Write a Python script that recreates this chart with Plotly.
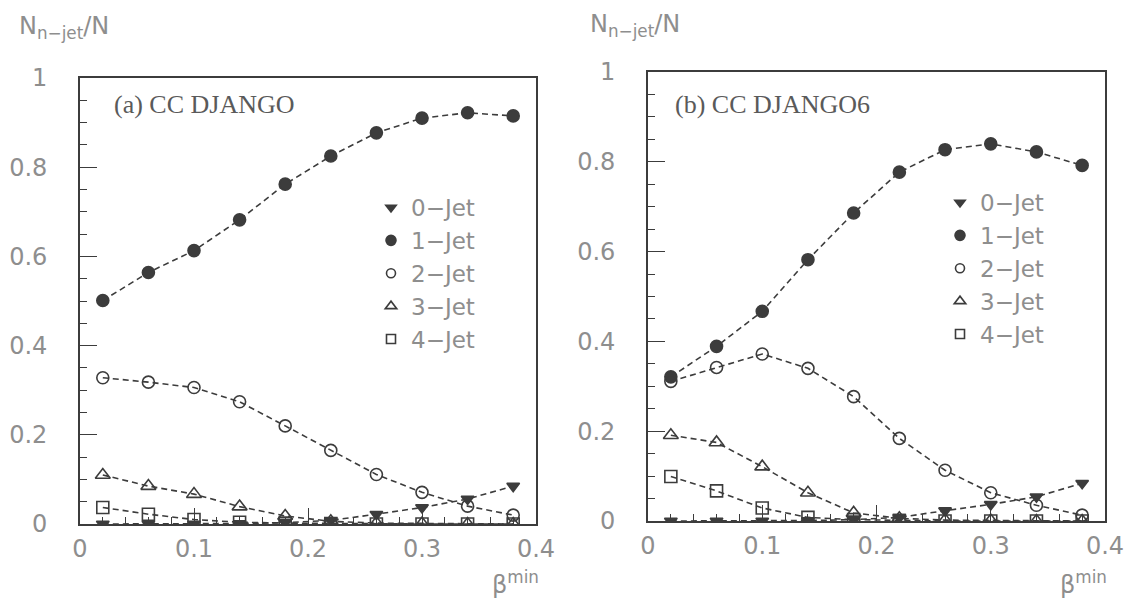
import plotly.graph_objects as go

# page body has an 8px margin, so the figure is a little smaller than the window
OFF = 8
W, H = 1137 - OFF, 602 - OFF

beta = [0.02, 0.06, 0.10, 0.14, 0.18, 0.22, 0.26, 0.30, 0.34, 0.38]

# panel (a) CC DJANGO
jet0_a = [0.000, 0.000, 0.000, 0.001, 0.003, 0.008, 0.022, 0.037, 0.056, 0.085]
jet1_a = [0.501, 0.564, 0.613, 0.682, 0.762, 0.825, 0.877, 0.910, 0.922, 0.915]
jet2_a = [0.328, 0.318, 0.306, 0.274, 0.220, 0.165, 0.111, 0.071, 0.040, 0.020]
jet3_a = [0.110, 0.085, 0.067, 0.039, 0.018, 0.006, 0.002, 0.001, 0.000, 0.000]
jet4_a = [0.037, 0.022, 0.010, 0.004, 0.002, 0.001, 0.000, 0.000, 0.000, 0.000]

# panel (b) CC DJANGO6
jet0_b = [0.000, 0.000, 0.000, 0.001, 0.003, 0.008, 0.023, 0.037, 0.054, 0.084]
jet1_b = [0.321, 0.389, 0.467, 0.582, 0.686, 0.777, 0.827, 0.840, 0.822, 0.792]
jet2_b = [0.311, 0.342, 0.372, 0.340, 0.277, 0.184, 0.113, 0.063, 0.035, 0.013]
jet3_b = [0.191, 0.175, 0.121, 0.063, 0.018, 0.006, 0.002, 0.001, 0.000, 0.000]
jet4_b = [0.099, 0.067, 0.029, 0.008, 0.003, 0.001, 0.000, 0.000, 0.000, 0.000]

series_names = ["0\u2212Jet", "1\u2212Jet", "2\u2212Jet", "3\u2212Jet", "4\u2212Jet"]
panel_titles = ["(a) CC DJANGO", "(b) CC DJANGO6"]

INK = "#3c3c3c"
GREY = "#8e8e8e"
symbols = ["triangle-down", "circle", "circle-open", "triangle-up-open", "square-open"]
sizes = [11, 12, 12, 13, 12]
leg_sizes = [9, 10, 9, 10, 9]

fig = go.Figure()

panels = [
    ("x", "y", "legend", [jet0_a, jet1_a, jet2_a, jet3_a, jet4_a]),
    ("x2", "y2", "legend2", [jet0_b, jet1_b, jet2_b, jet3_b, jet4_b]),
]

for xa, ya, leg, data in panels:
    for i, vals in enumerate(data):
        fig.add_trace(go.Scatter(
            x=beta, y=vals, xaxis=xa, yaxis=ya, mode="lines+markers",
            line=dict(color=INK, width=1.6, dash="6px,4px"),
            marker=dict(symbol=symbols[i], size=sizes[i], color=INK,
                        line=dict(color=INK, width=1.6)),
            showlegend=False, hoverinfo="skip"))
    for i in range(5):
        fig.add_trace(go.Scatter(
            x=[None], y=[None], xaxis=xa, yaxis=ya, mode="markers",
            marker=dict(symbol=symbols[i], size=leg_sizes[i], color=INK,
                        line=dict(color=INK, width=1.6)),
            name=series_names[i], legend=leg, showlegend=True))

def px_x(p):
    return (p - OFF) / W

def px_y(p):
    return 1 - (p - OFF) / H

tickfont = dict(family="DejaVu Sans, Liberation Sans, sans-serif", size=24, color=GREY)

def xaxis(domain, anchor):
    return dict(domain=domain, anchor=anchor, range=[0, 0.4], dtick=0.1, tick0=0,
                ticks="inside", ticklen=16, tickwidth=1.4, tickcolor=INK,
                minor=dict(dtick=0.02, ticks="inside", ticklen=7, tickwidth=1.2, tickcolor=INK),
                showline=True, linecolor=INK, linewidth=1.6, mirror=True,
                showgrid=False, zeroline=False, tickfont=tickfont,
                ticklabelstandoff=2, automargin=False, fixedrange=True)

def yaxis(domain, anchor):
    return dict(domain=domain, anchor=anchor, range=[0, 1], dtick=0.2, tick0=0,
                ticks="inside", ticklen=17, tickwidth=1.4, tickcolor=INK,
                minor=dict(dtick=0.05, ticks="inside", ticklen=7, tickwidth=1.2, tickcolor=INK),
                showline=True, linecolor=INK, linewidth=1.6, mirror=True,
                showgrid=False, zeroline=False, tickfont=tickfont,
                ticklabelstandoff=26, automargin=False, fixedrange=True)

legfont = dict(family="DejaVu Sans, Liberation Sans, sans-serif", size=23, color=GREY)

fig.update_layout(
    width=W, height=H,
    margin=dict(l=0, r=0, t=0, b=0),
    paper_bgcolor="white", plot_bgcolor="white",
    xaxis=xaxis([px_x(80), px_x(536)], "y"),
    yaxis=yaxis([px_y(524), px_y(78)], "x"),
    xaxis2=xaxis([px_x(648), px_x(1105)], "y2"),
    yaxis2=yaxis([px_y(521), px_y(72)], "x2"),
    legend=dict(x=px_x(371), y=px_y(186), xanchor="left", yanchor="top",
                bgcolor="rgba(0,0,0,0)", font=legfont, itemwidth=30,
                tracegroupgap=0),
    legend2=dict(x=px_x(940), y=px_y(181), xanchor="left", yanchor="top",
                 bgcolor="rgba(0,0,0,0)", font=legfont, itemwidth=30,
                 tracegroupgap=0),
)

annots = []
title_font = dict(family="Liberation Serif, Times New Roman, serif", size=26, color="#5a5a5a")
annots.append(dict(text=panel_titles[0], x=px_x(112), y=px_y(105), xref="paper", yref="paper",
                   xanchor="left", yanchor="middle", showarrow=False, font=title_font))
annots.append(dict(text=panel_titles[1], x=px_x(673), y=px_y(105), xref="paper", yref="paper",
                   xanchor="left", yanchor="middle", showarrow=False, font=title_font))

lab_font = dict(family="DejaVu Sans, Liberation Sans, sans-serif", size=24, color=GREY)
ytitle = "N<sub>n\u2212jet</sub>/N"
annots.append(dict(text=ytitle, x=px_x(17), y=px_y(27), xref="paper", yref="paper",
                   xanchor="left", yanchor="middle", showarrow=False, font=lab_font))
annots.append(dict(text=ytitle, x=px_x(588), y=px_y(25), xref="paper", yref="paper",
                   xanchor="left", yanchor="middle", showarrow=False, font=lab_font))

xtitle = "\u03b2<sup>min</sup>"
annots.append(dict(text=xtitle, x=px_x(490), y=px_y(583), xref="paper", yref="paper",
                   xanchor="left", yanchor="middle", showarrow=False, font=lab_font))
annots.append(dict(text=xtitle, x=px_x(1058), y=px_y(583), xref="paper", yref="paper",
                   xanchor="left", yanchor="middle", showarrow=False, font=lab_font))

fig.update_layout(annotations=annots)

fig.write_html("out.html")
